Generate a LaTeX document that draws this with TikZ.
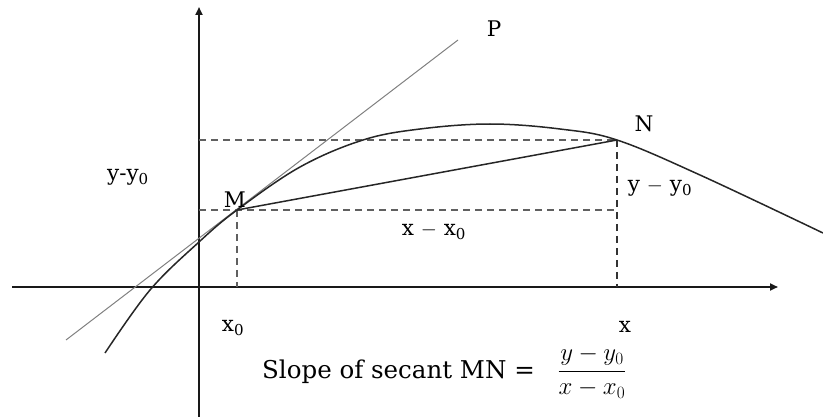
\documentclass[tikz,border=0pt]{standalone}
\usepackage{amsmath}
\usepackage{fontspec}
\setmainfont{DejaVu Serif}
\usetikzlibrary{arrows.meta}
\begin{document}
\begin{tikzpicture}[x=1pt,y=-1pt,
  axis/.style={line width=2.2pt,black!90,-{Triangle[length=8pt,width=7pt]}},
  guide/.style={line width=1.8pt,gray!75!black,dash pattern=on 7pt off 5pt},
  tangent/.style={line width=1pt,gray},
  curve/.style={line width=1.5pt,black!85},
  lbl/.style={font=\fontsize{21.5}{25}\selectfont,inner sep=0pt}]
\useasboundingbox (0,0) rectangle (823,417);
% axes
\coordinate (xs) at (12,287);
\coordinate (xe) at (778,287);
\coordinate (ys) at (199,417);
\coordinate (ye) at (199,7);
\draw[axis] (xs) -- (xe);
\draw[axis] (ys) -- (ye);
% key points
\coordinate (M) at (237,210);
\coordinate (N) at (617,140);
\coordinate (Mx) at (237,287);
\coordinate (Nx) at (617,287);
\coordinate (My) at (199,210);
\coordinate (Ny) at (199,140);
\coordinate (NM) at (617,210);
% dashed guides
\draw[guide] (My) -- (NM);
\draw[guide] (Ny) -- (N);
\draw[guide] (M) -- (Mx);
\draw[guide,line width=1.4pt,black!80] (N) -- (Nx);
% tangent
\coordinate (T1) at (66,340);
\coordinate (T2) at (458,40);
\draw[tangent] (T1) -- (T2);
% curve
\draw[curve] plot[smooth,tension=0.6] coordinates {(105,353) (150,290) (199,242) (237,210) (300,167) (363,140) (420,129) (490,124) (560,129) (617,140) (700,175) (823,233)};
% secant
\draw[curve] (M) -- (N);
% labels
\node[lbl] (lP) at (494,29) {P};
\node[lbl] (lN) at (644,124) {N};
\node[lbl] (lM) at (235,200) {M};
\node[lbl] (lyy1) at (128,177) {y-y\textsubscript{0}};
\node[lbl] (lyy2) at (660,188) {y $-$ y\textsubscript{0}};
\node[lbl] (lxx) at (434,232) {x $-$ x\textsubscript{0}};
\node[lbl] (lx0) at (233,328) {x\textsubscript{0}};
\node[lbl] (lx) at (625,327) {x};
\node[lbl,font=\fontsize{24.5}{28}\selectfont,anchor=base west] (slope) at (262,378) {Slope of secant MN =};
\node[inner sep=0pt,font=\fontsize{23}{26}\selectfont] (frac) at (592,372) {$\dfrac{y-y_{0}}{x-x_{0}}$};
\end{tikzpicture}
\end{document}
